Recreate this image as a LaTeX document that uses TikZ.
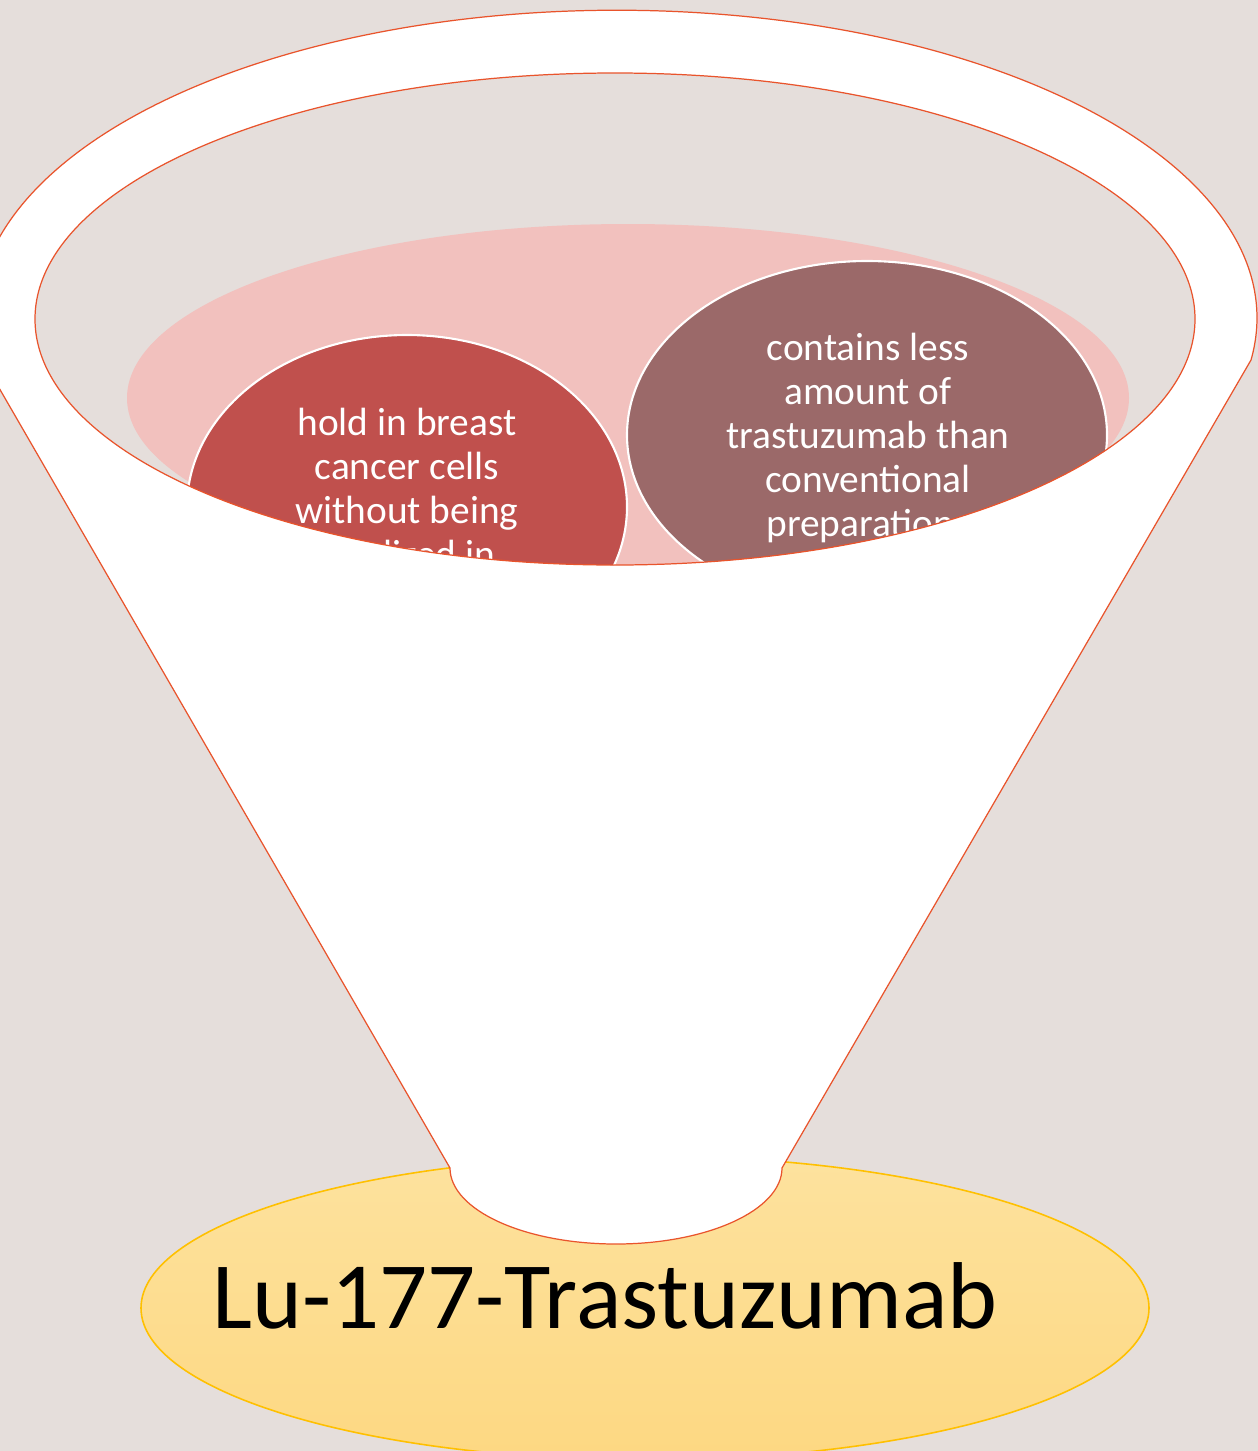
\documentclass[tikz,border=0pt]{standalone}
\usepackage{fontspec}
\setmainfont{Carlito}
\usepackage{tikz}
\definecolor{backdrop}{RGB}{229,222,219}
\definecolor{rimred}{RGB}{233,84,44}
\definecolor{blush}{RGB}{242,193,190}
\definecolor{brick}{RGB}{192,80,77}
\definecolor{mauve}{RGB}{155,105,105}
\definecolor{goldline}{RGB}{255,192,0}
\definecolor{sandtop}{RGB}{253,226,158}
\definecolor{sandbot}{RGB}{253,216,130}
\tikzset{
  rim/.style      = {draw=rimred, line width=0.35pt},
  bubble/.style   = {draw=white, line width=0.6pt},
  bubtext/.style  = {align=center, text=white, inner sep=0pt,
                     font=\fontsize{11.2}{12.5}\selectfont},
  basetext/.style = {inner sep=0pt, font=\fontsize{27}{32}\selectfont}
}

\begin{document}
\begin{tikzpicture}[x=0.01cm,y=-0.01cm]
  \fill[backdrop] (0,0) rectangle (1258,1451);
  \useasboundingbox (0,0) rectangle (1258,1451);
  \path[draw=goldline, line width=0.45pt, top color=sandtop, bottom color=sandbot]
        (645,1308) ellipse [x radius=504, y radius=152];
  \path[rim, fill=white] (1251,360)
        arc[start angle=7.8, end angle=-187.8, x radius=640, y radius=308]
        -- (450,1168) arc[start angle=180, end angle=0, x radius=166, y radius=76]
        -- cycle;
  \fill[backdrop] (615,319) ellipse [x radius=580, y radius=246];
  \begin{scope}
    \clip (615,319) ellipse [x radius=580, y radius=246];
    \fill[blush] (628,398) ellipse [x radius=501, y radius=174];
    \path[bubble, fill=brick] (407,507) ellipse [x radius=220, y radius=172];
    \path[bubble, fill=mauve] (867,435) ellipse [x radius=240, y radius=174];
    \node[bubtext] (hold) at (407,488)
          {hold in breast\\cancer cells\\without being\\localized in};
    \node[bubtext] (less) at (868,438)
          {contains less\\amount of\\trastuzumab than\\conventional\\preparations};
  \end{scope}
  \path[rim] (615,319) ellipse [x radius=580, y radius=246];
  \node[basetext, anchor=base] (drug) at (605,1328) {Lu-177-Trastuzumab};
\end{tikzpicture}
\end{document}
